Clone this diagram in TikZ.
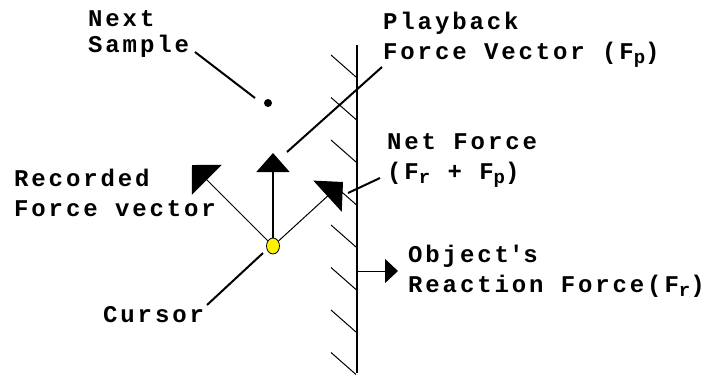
\documentclass[tikz,border=0pt]{standalone}
\usepackage{fontspec}
\newfontfamily\pixfont[LetterSpace=12]{Liberation Mono}
\newcommand\lowidx[1]{\raisebox{-4pt}{\fontsize{19}{19}\selectfont #1}}
\usetikzlibrary{arrows.meta, shapes.geometric}

\begin{document}
\begin{tikzpicture}[
	x=1pt, y=-1pt,
	lbl/.style={
		anchor=base west,
		inner sep=0pt,
		align=left,
		font={\pixfont\bfseries\fontsize{24}{30}\selectfont},
	},
	lead/.style={line width=2pt},
	wall/.style={line width=2pt},
	hatch/.style={line width=1pt},
	vec/.style={line width=1pt, -{Triangle[length=21pt, width=42pt]}},
	upvec/.style={line width=2pt, -{Triangle[length=19pt, width=33pt]}},
	react/.style={line width=1pt, -{Triangle[length=13pt, width=24pt]}},
	cur/.style={ellipse, draw, line width=0.8pt, fill=yellow, minimum width=13pt, minimum height=16pt, inner sep=0pt},
	dot/.style={circle, fill=black, minimum size=8pt, inner sep=0pt},
	]
	\useasboundingbox (0,0) rectangle (714,376);

	\node[cur] (cursor) at (273,246) {};
	\node[dot] (sample) at (268,103) {};
	\coordinate (rectip) at (192,165);
	\coordinate (uptip) at (273,153);
	\coordinate (nettip) at (343,182);
	\coordinate (walltop) at (357,45);
	\coordinate (wallbot) at (357,373);
	\coordinate (wallmid) at (357,271);
	\coordinate (reacttip) at (398,271);

	\node[lbl] (nextlbl) at (88,52) {Next\\[-4pt]Sample};
	\node[lbl] (playlbl) at (383,59) {Playback\\Force Vector (F\lowidx{p})};
	\node[lbl] (netlbl) at (387,179) {Net Force\\(F\lowidx{r} + F\lowidx{p})};
	\node[lbl] (reclbl) at (14,216) {Recorded\\Force vector};
	\node[lbl] (curlbl) at (103,322) {Cursor};
	\node[lbl] (objlbl) at (408,292) {Object\textquotesingle s\\Reaction Force(F\lowidx{r})};

	\draw[wall] (walltop) -- (wallbot);
	\foreach \k in {0,...,7}
		\draw[hatch] (331,55+42.5*\k) -- (356,77+42.5*\k);

	\draw[vec] (cursor) -- (rectip);
	\draw[upvec] (cursor.north) -- (uptip);
	\draw[vec] (cursor) -- (nettip);
	\draw[react] (wallmid) -- (reacttip);

	\coordinate (sampleend) at (195,52);
	\coordinate (samplept) at (255,98);
	\coordinate (playend) at (382,67);
	\coordinate (playpt) at (287,152);
	\coordinate (netend) at (380,178);
	\coordinate (netpt) at (348,193);
	\coordinate (curend) at (207,305);
	\coordinate (curpt) at (263,253);
	\draw[lead] (sampleend) -- (samplept);
	\draw[lead] (playend) -- (playpt);
	\draw[lead] (netend) -- (netpt);
	\draw[lead] (curend) -- (curpt);
\end{tikzpicture}
\end{document}
